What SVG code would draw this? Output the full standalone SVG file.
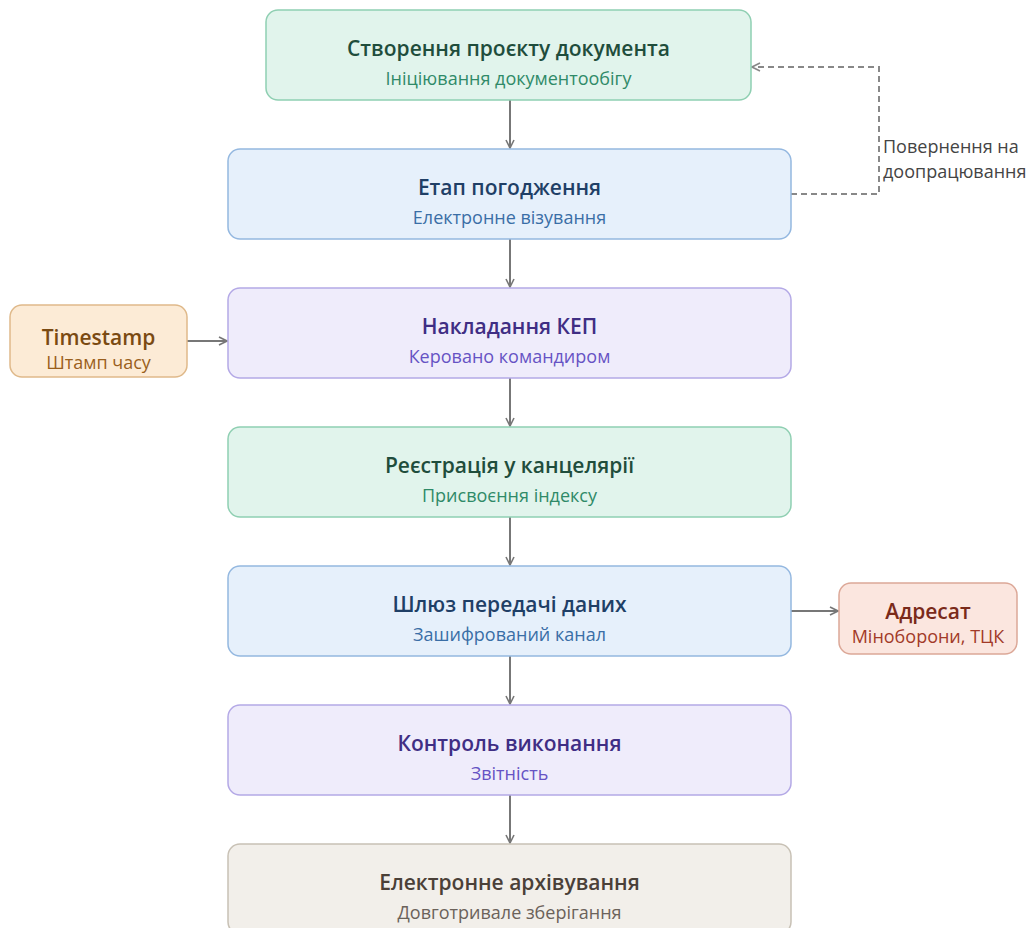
<svg xmlns="http://www.w3.org/2000/svg" width="1033" height="928" viewBox="0 0 1033 928">
<style>
.t{font-family:"Open Sans","Noto Sans","DejaVu Sans",sans-serif;font-size:21px;font-weight:600;text-anchor:middle}
.s{font-family:"Open Sans","Noto Sans","DejaVu Sans",sans-serif;font-size:18px;text-anchor:middle}
.lbl{font-family:"Open Sans","Noto Sans","DejaVu Sans",sans-serif;font-size:18px;fill:#444}
.green rect{fill:#e1f4ec;stroke:#8fcfb2;stroke-width:1.5}
.green .t{fill:#1f4d3c}.green .s{fill:#2f8a68}
.blue rect{fill:#e6f0fb;stroke:#94b8e0;stroke-width:1.5}
.blue .t{fill:#1f3f66}.blue .s{fill:#3a6ea6}
.purple rect{fill:#efecfb;stroke:#b4a9e6;stroke-width:1.5}
.purple .t{fill:#3f2e84}.purple .s{fill:#6653c4}
.beige rect{fill:#f2efea;stroke:#c8c1b5;stroke-width:1.5}
.beige .t{fill:#4a4038}.beige .s{fill:#6b625a}
.orange rect{fill:#fcebd6;stroke:#dfb98a;stroke-width:1.5}
.orange .t{fill:#7a4a12}.orange .s{fill:#9a5f1c}
.red rect{fill:#fbe6df;stroke:#dca898;stroke-width:1.5}
.red .t{fill:#7a2a1a}.red .s{fill:#a23a28}
.e{fill:none;stroke:#777;stroke-width:2}
.d{fill:none;stroke:#888;stroke-width:2;stroke-dasharray:6 4}
</style>
<defs>
<marker id="a" viewBox="0 0 10 10" refX="9" refY="5" markerWidth="10" markerHeight="10" markerUnits="userSpaceOnUse" orient="auto">
<path d="M1,1 L9,5 L1,9" fill="none" stroke="#777" stroke-width="1.6"/>
</marker>
<marker id="ad" viewBox="0 0 10 10" refX="9" refY="5" markerWidth="10" markerHeight="10" markerUnits="userSpaceOnUse" orient="auto">
<path d="M1,1 L9,5 L1,9" fill="none" stroke="#888" stroke-width="1.6"/>
</marker>
</defs>
<g id="connectors">
<path class="e" d="M510,100 V148" marker-end="url(#a)"/>
<path class="e" d="M510,239 V287" marker-end="url(#a)"/>
<path class="e" d="M510,378 V426" marker-end="url(#a)"/>
<path class="e" d="M510,517 V565" marker-end="url(#a)"/>
<path class="e" d="M510,656 V704" marker-end="url(#a)"/>
<path class="e" d="M510,795 V843" marker-end="url(#a)"/>
<path class="e" d="M187,341 H227" marker-end="url(#a)"/>
<path class="e" d="M791,611 H838" marker-end="url(#a)"/>
<path class="d" d="M791,194 H879 V67 H752" marker-end="url(#ad)"/>
<text class="lbl" x="883" y="153">Повернення на</text>
<text class="lbl" x="883" y="178">доопрацювання</text>
</g>
<g id="n1" class="green"><rect x="266" y="10" width="485" height="90" rx="12"/><text class="t" x="508.5" y="56">Створення проєкту документа</text><text class="s" x="508.5" y="85">Ініціювання документообігу</text></g>
<g id="n2" class="blue"><rect x="228" y="149" width="563" height="90" rx="12"/><text class="t" x="509.5" y="195">Етап погодження</text><text class="s" x="509.5" y="224">Електронне візування</text></g>
<g id="n3" class="purple"><rect x="228" y="288" width="563" height="90" rx="12"/><text class="t" x="509.5" y="334">Накладання КЕП</text><text class="s" x="509.5" y="363">Керовано командиром</text></g>
<g id="n4" class="green"><rect x="228" y="427" width="563" height="90" rx="12"/><text class="t" x="509.5" y="473">Реєстрація у канцелярії</text><text class="s" x="509.5" y="502">Присвоєння індексу</text></g>
<g id="n5" class="blue"><rect x="228" y="566" width="563" height="90" rx="12"/><text class="t" x="509.5" y="612">Шлюз передачі даних</text><text class="s" x="509.5" y="641">Зашифрований канал</text></g>
<g id="n6" class="purple"><rect x="228" y="705" width="563" height="90" rx="12"/><text class="t" x="509.5" y="751">Контроль виконання</text><text class="s" x="509.5" y="780">Звітність</text></g>
<g id="n7" class="beige"><rect x="228" y="844" width="563" height="90" rx="12"/><text class="t" x="509.5" y="890">Електронне архівування</text><text class="s" x="509.5" y="919">Довготривале зберігання</text></g>
<g id="ts" class="orange"><rect x="10" y="305" width="177" height="72" rx="12"/><text class="t" x="98.5" y="345">Timestamp</text><text class="s" x="98.5" y="369">Штамп часу</text></g>
<g id="adr" class="red"><rect x="839" y="583" width="178" height="71" rx="12"/><text class="t" x="928" y="619">Адресат</text><text class="s" x="928" y="643">Міноборони, ТЦК</text></g>
</svg>
